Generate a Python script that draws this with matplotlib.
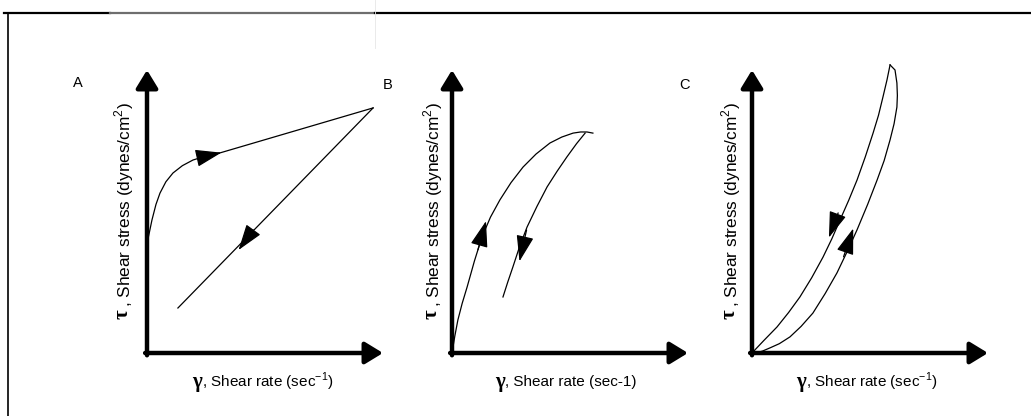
"""Three schematic flow curves (shear stress vs shear rate) with hysteresis loops."""
import matplotlib.pyplot as plt
from matplotlib.lines import Line2D

plt.rcParams["font.family"] = ["Liberation Sans", "DejaVu Sans"]
plt.rcParams["mathtext.fontset"] = "custom"
plt.rcParams["mathtext.rm"] = "Liberation Sans"

# panel A: up curve (rounded knee then straight), down curve (straight line)
a_up_x = [0, 0.6, 2.1, 3.8, 5.5, 8.0, 11.0, 15.0, 19.5, 25.0, 30.9, 95.8]
a_up_y = [32.9, 41.0, 47.0, 52.5, 56.5, 60.5, 63.6, 66.2, 68.2, 69.6, 70.7, 86.6]
a_down_x = [95.8, 13.1]
a_down_y = [86.6, 15.9]

# panel B: up curve and down curve meeting near the top
b_up_x = [0, 1.2, 2.5, 4.3, 6.4, 9.5, 12.7, 16.3, 20.3, 25.0, 30.1, 35.6,
          41.5, 46.5, 51.3, 54.5, 57.2, 59.7]
b_up_y = [0, 6.0, 11.7, 17.5, 23.3, 32.5, 41.0, 48.0, 54.1, 60.2, 65.7, 70.3,
          74.2, 76.3, 77.7, 78.1, 78.1, 77.7]
b_down_x = [56.4, 52.8, 48.7, 44.6, 40.3, 36.0, 31.8, 28.6, 25.8, 23.6, 21.6]
b_down_y = [77.7, 74.0, 69.3, 64.3, 58.7, 51.8, 44.5, 37.5, 30.4, 25.0, 19.8]

# panel C: narrow loop, upper (down) branch and lower (up) branch
c_top_x = [0, 5.0, 10.6, 15.5, 20.3, 25.3, 30.1, 33.8, 37.3, 41.0, 44.5,
           48.0, 51.3, 53.6, 55.5, 57.2, 58.5]
c_top_y = [0, 4.4, 9.2, 14.3, 19.8, 26.6, 33.9, 40.3, 47.0, 54.0, 61.1,
           69.3, 77.7, 84.0, 90.5, 96.5, 101.8]
c_bot_x = [58.5, 60.6, 61.4, 61.6, 61.4, 60.2, 58.5, 56.0, 53.0, 49.0,
           44.5, 40.3, 36.0, 31.0, 25.8, 20.8, 16.1, 11.6, 7.6, 4.5, 2.1, 0]
c_bot_y = [101.8, 100.0, 95.4, 91.0, 86.9, 81.0, 75.3, 68.0, 61.1, 52.5,
           43.5, 35.8, 28.3, 21.0, 14.1, 9.4, 5.7, 3.3, 1.8, 0.7, 0.1, 0]

# arrowheads on curves: (tail point, tip point) along each branch
a_marks = [((24.0, 69.4), (31.5, 70.8)), ((45.0, 43.5), (38.8, 36.4))]
b_marks = [((11.0, 36.5), (14.4, 46.6)), ((31.6, 43.5), (28.6, 32.4))]
c_marks = [((36.5, 49.5), (32.6, 40.8)), ((38.8, 34.0), (42.9, 44.0))]

panel_lefts = [147, 452, 752]
ylabel_x = [-0.102, -0.085, -0.093]
ylabel_rest = [", Shear stress (dynes/cm$^2$)"] * 3
xlabel_rest = [", Shear rate (sec$^{-1}$)", ", Shear rate (sec-1)",
               ", Shear rate (sec$^{-1}$)"]
xlabel_greek_x = [0.212, 0.203, 0.208]
letters = ["A", "B", "C"]
letter_pos = [(78, 83), (388, 85), (685, 85)]

W, H = 1031, 416
fig = plt.figure(figsize=(W / 100, H / 100), dpi=100)

# frame lines of the scanned page
fig.add_artist(Line2D([4 / W, 110 / W], [1 - 13 / H] * 2, color="black", lw=1.6))
fig.add_artist(Line2D([110 / W, 375 / W], [1 - 13 / H] * 2, color="#6e6e6e", lw=1.6))
fig.add_artist(Line2D([375 / W, 1], [1 - 13 / H] * 2, color="black", lw=1.6))
fig.add_artist(Line2D([8 / W, 8 / W], [0, 1 - 13 / H], color="black", lw=1.2))
fig.add_artist(Line2D([375 / W, 375 / W], [1 - 48 / H, 1], color="#e6e6e6", lw=0.6))

curves = [
    [(a_up_x, a_up_y), (a_down_x, a_down_y)],
    [(b_up_x, b_up_y), (b_down_x, b_down_y)],
    [(c_top_x, c_top_y), (c_bot_x, c_bot_y)],
]
marks = [a_marks, b_marks, c_marks]
greek = dict(family="Liberation Serif", fontweight="bold", fontsize=15)

for i, left in enumerate(panel_lefts):
    ax = fig.add_axes([left / W, 63 / H, 236 / W, 283 / H])
    ax.set_xlim(0, 100)
    ax.set_ylim(0, 100)
    ax.axis("off")

    # thick axis arrows
    for tip, tail in [((0, 1.0), (0, -0.008)), ((1.0, 0), (-0.008, 0))]:
        ax.annotate("", xy=tip, xytext=tail, xycoords="axes fraction",
                    textcoords="axes fraction", annotation_clip=False,
                    arrowprops=dict(arrowstyle="-|>,head_length=0.9,head_width=0.55",
                                    lw=3.2, color="black", shrinkA=0, shrinkB=0,
                                    mutation_scale=12))

    for xs, ys in curves[i]:
        ax.plot(xs, ys, color="black", lw=0.9, clip_on=False,
                solid_joinstyle="round")

    for tail, tip in marks[i]:
        ax.annotate("", xy=tip, xytext=tail, annotation_clip=False,
                    arrowprops=dict(arrowstyle="-|>,head_length=1.25,head_width=0.42",
                                    lw=0.9, color="black", shrinkA=0, shrinkB=0,
                                    mutation_scale=13))

    # y label: big serif tau, then the rest of the text
    ax.text(ylabel_x[i], 0.138, "\u03c4", rotation=90, transform=ax.transAxes,
            ha="center", va="center", **greek)
    ax.text(ylabel_x[i] + 0.004, 0.162, ylabel_rest[i], rotation=90,
            transform=ax.transAxes, ha="center", va="bottom", fontsize=12.4)

    # x label: big gamma, then the rest
    ax.text(xlabel_greek_x[i], -0.104, "\u03b3", transform=ax.transAxes,
            ha="center", va="center", **greek)
    ax.text(xlabel_greek_x[i] + 0.022, -0.102, xlabel_rest[i],
            transform=ax.transAxes, ha="left", va="center", fontsize=11)

for letter, (px, py) in zip(letters, letter_pos):
    fig.text(px / W, 1 - py / H, letter, fontsize=10.5, ha="center", va="center")

fig.savefig("out.png", dpi=100, facecolor="white")
